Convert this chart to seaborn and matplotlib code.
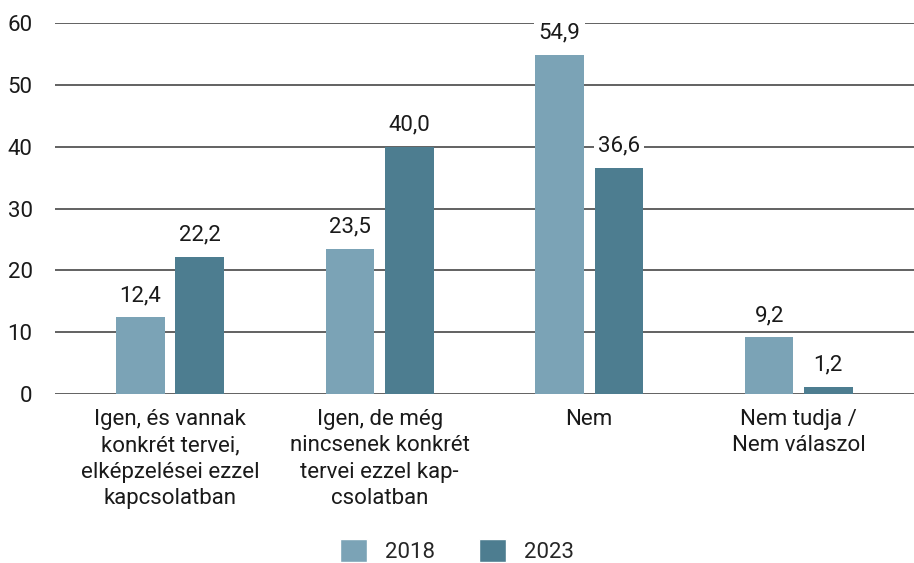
import pandas as pd
import matplotlib.pyplot as plt
import seaborn as sns
from matplotlib.patches import Patch

# Data
categories = [
    'Igen, és vannak\nkonkrét tervei,\nelképzelései ezzel\nkapcsolatban',
    'Igen, de még\nnincsenek konkrét\ntervei ezzel kap-\ncsolatban',
    'Nem',
    'Nem tudja /\nNem válaszol',
]
values_2018 = [12.4, 23.5, 54.9, 9.2]
values_2023 = [22.2, 40.0, 36.6, 1.2]
years = ['2018', '2023']
colors = ['#7ba3b6', '#4d7d90']

df = pd.DataFrame({
    'category': categories * 2,
    'year': [years[0]] * 4 + [years[1]] * 4,
    'value': values_2018 + values_2023,
})

sns.set_style('white')
plt.rcParams['font.family'] = ['Roboto', 'DejaVu Sans']
fs = 16

fig = plt.figure(figsize=(9.14, 5.63), dpi=100)
ax = fig.add_axes([0.060, 0.300, 0.940, 0.659])

sns.barplot(data=df, x='category', y='value', hue='year', palette=colors,
            saturation=1, linewidth=0, width=0.565, gap=0.18, legend=False,
            ax=ax, zorder=3)

ax.set_ylim(0, 60)
ax.set_xlim(-0.55, 3.55)
ax.set_yticks(range(0, 61, 10))
ax.yaxis.grid(True, color='#555555', linewidth=1.3, zorder=0)
ax.set_axisbelow(True)
for s in ax.spines.values():
    s.set_visible(False)
ax.tick_params(axis='both', length=0, labelsize=fs, colors='#1a1a1a')
ax.tick_params(axis='y', pad=16)
ax.tick_params(axis='x', pad=11)
ax.set_xlabel('')
ax.set_ylabel('')
for lab in ax.get_xticklabels():
    lab.set_linespacing(1.32)

# value labels with white background over grid lines
for cont in ax.containers:
    for bar in cont:
        h = bar.get_height()
        ax.annotate(f'{h:.1f}'.replace('.', ','),
                    (bar.get_x() + bar.get_width() / 2, h),
                    xytext=(0, 8), textcoords='offset points',
                    ha='center', va='bottom', fontsize=fs, color='#1a1a1a',
                    bbox=dict(facecolor='white', edgecolor='none', pad=3),
                    zorder=4)

handles = [Patch(facecolor=c, label=y) for c, y in zip(colors, years)]
fig.legend(handles=handles, loc='lower center', bbox_to_anchor=(0.5, -0.035),
           ncol=2, frameon=False, fontsize=fs, handlelength=1.2,
           handleheight=1.2, handletextpad=0.8, columnspacing=2.0)

fig.savefig('out.png', dpi=100)
